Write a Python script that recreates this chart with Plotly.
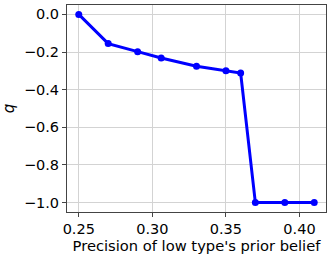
import plotly.graph_objects as go

# precision of low type's prior belief vs q
precision = [0.25, 0.27, 0.29, 0.306, 0.33, 0.35, 0.36, 0.37, 0.39, 0.41]
q_values = [0.0, -0.155, -0.198, -0.232, -0.275, -0.30, -0.312, -1.0, -1.0, -1.0]

x_ticks = [0.25, 0.30, 0.35, 0.40]
y_ticks = [0.0, -0.2, -0.4, -0.6, -0.8, -1.0]

fig = go.Figure()
fig.add_trace(go.Scatter(
    x=precision, y=q_values, mode="lines+markers",
    line=dict(color="#0000ff", width=3),
    marker=dict(color="#0000ff", size=7),
    showlegend=False,
))

axis_style = dict(
    showgrid=True, gridcolor="#d3d3d3", gridwidth=1,
    showline=True, linecolor="#444444", linewidth=1, mirror=True,
    ticks="outside", ticklen=4, tickcolor="#444444",
    zeroline=False,
    tickfont=dict(family="DejaVu Sans", size=14.5, color="black"),
)

fig.update_xaxes(
    range=[0.242, 0.418], tickvals=x_ticks, tickformat=".2f",
    title=dict(text="Precision of low type's prior belief",
               font=dict(family="DejaVu Sans", size=14.7, color="black"),
               standoff=4),
    **axis_style,
)
fig.update_yaxes(
    range=[-1.05, 0.05], tickvals=y_ticks, tickformat=".1f",
    title=dict(text="<i>q</i>",
               font=dict(family="DejaVu Sans", size=15, color="black"),
               standoff=8),
    **axis_style,
)

fig.update_layout(
    width=332, height=258,
    margin=dict(l=67, r=6, t=5, b=46),
    plot_bgcolor="white", paper_bgcolor="white",
)

fig.write_html("out.html", config={"displayModeBar": False},
               post_script="document.body.style.margin='0';")
